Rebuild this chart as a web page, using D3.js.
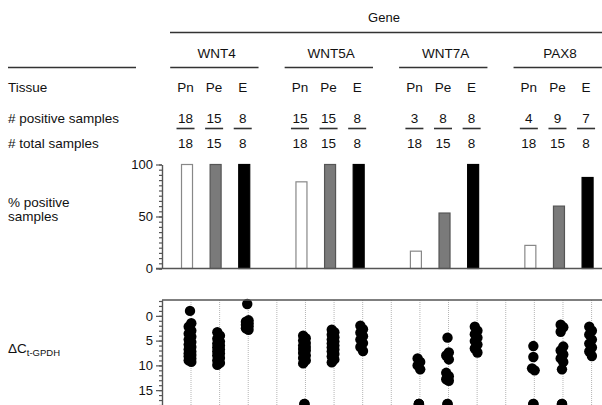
<!DOCTYPE html>
<html>
<head>
<meta charset="utf-8">
<script src="https://cdn.jsdelivr.net/npm/d3@7"></script>
<style>
  body { margin: 0; background: #fff; }
  svg { display: block; font-family: 'Liberation Sans', Arial, sans-serif; }
  .lbl { font-size: 13.5px; fill: #111; }
  .tick text { font-size: 13px; fill: #111; font-family: 'Liberation Sans', Arial, sans-serif; }
  .axis path, .axis line { stroke: #555; stroke-width: 1.2; }
</style>
</head>
<body>
<svg id="chart" width="602" height="405"></svg>
<script>
// ── Data ─────────────────────────────────────────────────────────
const genes     = ['WNT4', 'WNT5A', 'WNT7A', 'PAX8'];
const tissues   = ['Pn', 'Pe', 'E'];
const positives = [[18, 15, 8], [15, 15, 8], [3, 8, 8], [4, 9, 7]];
const totals    = [[18, 15, 8], [18, 15, 8], [18, 15, 8], [18, 15, 8]];

// ΔCt values per tissue (Pn, Pe, E); 17.8 = not detected (off the bottom)
const dctWNT4 = [
  [-1.0, 1.5, 2.2, 3.0, 3.6, 4.2, 4.8, 5.3, 5.8, 6.3, 6.8, 7.2, 7.6, 7.9, 8.2, 8.6, 9.0, 9.3],
  [3.3, 4.0, 4.6, 5.2, 5.6, 6.0, 6.4, 6.8, 7.2, 7.6, 8.0, 8.5, 9.0, 9.5, 9.9],
  [-2.4, 0.9, 1.2, 1.5, 1.8, 2.1, 2.5, 2.8]
];
const dctWNT5A = [
  [4.0, 4.5, 5.0, 5.5, 6.0, 6.3, 6.7, 7.0, 7.5, 8.0, 8.5, 9.0, 9.6, 17.8, 17.8],
  [2.8, 3.3, 3.8, 4.3, 4.8, 5.2, 5.6, 6.0, 6.4, 6.8, 7.2, 7.7, 8.2, 8.8, 9.4],
  [2.0, 2.7, 3.4, 4.1, 4.8, 5.5, 6.3, 7.1]
];
const dctWNT7A = [
  [8.6, 9.3, 10.0, 10.8, 17.8, 17.8, 17.8],
  [4.4, 7.4, 8.0, 8.8, 11.5, 12.2, 12.8, 13.1, 17.8, 17.8],
  [2.2, 3.0, 3.7, 4.4, 5.1, 5.8, 6.6, 7.4]
];
const dctPAX8 = [
  [6.1, 8.3, 10.6, 11.0, 17.8, 17.8],
  [1.8, 2.3, 3.2, 6.2, 7.0, 7.8, 8.6, 9.3, 10.8, 17.8, 17.8],
  [2.2, 3.0, 3.8, 4.8, 5.6, 6.4, 7.2, 8.1]
];
const dctByGene = [dctWNT4, dctWNT5A, dctWNT7A, dctPAX8];

const barTicks = [0, 50, 100];
const dotTicks = [0, 5, 10, 15];

const TISSUE_FILL   = { Pn: '#fff', Pe: '#7a7a7a', E: '#000' };
const TISSUE_STROKE = { Pn: '#888', Pe: '#555', E: '#000' };

// ── Layout ───────────────────────────────────────────────────────
const svg = d3.select('#chart');
const W = 602;
const LEFT_X = 8;
const AXIS_X = 162;
const DOT_SHIFT = 4;

const xGene = d3.scaleBand().domain(genes).range([172.7, 630.5]);
const xTis  = d3.scaleBand().domain([...tissues, 'gap']).range([0, xGene.bandwidth()]);
const cx = (g, t) => xGene(g) + xTis(t) + xTis.bandwidth() / 2;

const yBar = d3.scaleLinear().domain([0, 100]).range([268.5, 164.5]);
const yDot = d3.scaleLinear().domain([-3.2, 18]).range([300, 405]);

const hline = (x1, x2, y, w = 1.3, c = '#333') =>
  svg.append('line').attr('x1', x1).attr('x2', x2).attr('y1', y).attr('y2', y)
    .attr('stroke', c).attr('stroke-width', w);

const text = (x, y, s, anchor = 'start') =>
  svg.append('text').attr('class', 'lbl').attr('x', x).attr('y', y)
    .attr('text-anchor', anchor).text(s);

// ── Header table ─────────────────────────────────────────────────
text(384, 22, 'Gene', 'middle').style('font-size', '13px');
hline(170, W, 32.5);
hline(LEFT_X, 136, 67.5);

text(LEFT_X, 92, 'Tissue');
text(LEFT_X, 123, '# positive samples');
text(LEFT_X, 148, '# total samples');

genes.forEach((g, gi) => {
  const x0 = xGene(g);
  const span = xTis.bandwidth() * 3;
  text(x0 + span / 2 + 1, 58, g, 'middle');
  hline(x0 - 2.5, x0 + span, 67.5);

  tissues.forEach((t, ti) => {
    const c = cx(g, t) - 1.5;
    text(c, 92, t, 'middle');
    text(c, 123, positives[gi][ti], 'middle');
    hline(c - 9, c + 9, 128.5, 1.6);
    text(c, 148, totals[gi][ti], 'middle');
  });
});

// ── % positive bars ──────────────────────────────────────────────
svg.append('text').attr('class', 'lbl').attr('x', LEFT_X).attr('y', 207)
  .call(t => t.append('tspan').attr('x', LEFT_X).text('% positive'))
  .call(t => t.append('tspan').attr('x', LEFT_X).attr('dy', 14).text('samples'));

const barData = genes.flatMap((g, gi) => tissues.map((t, ti) => ({
  g, t, pct: positives[gi][ti] / totals[gi][ti] * 100
})));

const BAR_W = 11;
svg.append('g').selectAll('rect')
  .data(barData)
  .join('rect')
    .attr('x', d => cx(d.g, d.t) - BAR_W / 2)
    .attr('y', d => yBar(d.pct))
    .attr('width', BAR_W)
    .attr('height', d => yBar(0) - yBar(d.pct))
    .attr('fill', d => TISSUE_FILL[d.t])
    .attr('stroke', d => TISSUE_STROKE[d.t])
    .attr('stroke-width', 1.2);

hline(AXIS_X - 6, W, yBar(0), 1.4, '#555');

svg.append('g').attr('class', 'axis').attr('transform', `translate(${AXIS_X},0)`)
  .call(d3.axisLeft(yBar).tickValues(d3.range(0, 101, 5)).tickSize(3).tickSizeOuter(0).tickFormat(''));
svg.append('g').attr('class', 'axis').attr('transform', `translate(${AXIS_X},0)`)
  .call(d3.axisLeft(yBar).tickValues(barTicks).tickSize(6).tickSizeOuter(0).tickPadding(3));

// ── ΔCt dot plot ─────────────────────────────────────────────────
const dl = svg.append('text').attr('class', 'lbl').attr('x', LEFT_X).attr('y', 353);
dl.append('tspan').text('ΔC');
dl.append('tspan').attr('dy', 3).style('font-size', '9.5px').text('t-GPDH');

const slots = genes.flatMap(g => xTis.domain().map(t => ({ g, t })));
svg.append('g').selectAll('line')
  .data(slots)
  .join('line')
    .attr('x1', d => cx(d.g, d.t) + DOT_SHIFT)
    .attr('x2', d => cx(d.g, d.t) + DOT_SHIFT)
    .attr('y1', yDot.range()[0])
    .attr('y2', yDot.range()[1])
    .attr('stroke', '#b5b5b5')
    .attr('stroke-width', 1)
    .attr('stroke-dasharray', '1 1');

// small alternating nudge for dots that crowd their neighbour
const dotData = genes.flatMap((g, gi) => tissues.flatMap((t, ti) => {
  const vals = dctByGene[gi][ti].slice().sort(d3.ascending);
  return vals.map((v, i) => {
    const crowded = (i > 0 && v - vals[i - 1] < 1.2) || (i < vals.length - 1 && vals[i + 1] - v < 1.2);
    return { g, t, v, dx: crowded && v < 17 ? (i % 2 ? 1.3 : -1.3) : 0 };
  });
}));

svg.append('g').selectAll('circle')
  .data(dotData)
  .join('circle')
    .attr('cx', d => cx(d.g, d.t) + DOT_SHIFT - 1 + d.dx)
    .attr('cy', d => yDot(d.v))
    .attr('r', 5.2)
    .attr('fill', '#000');

hline(AXIS_X, W, yDot.range()[0], 1.4, '#555');

svg.append('g').attr('class', 'axis').attr('transform', `translate(${AXIS_X},0)`)
  .call(d3.axisLeft(yDot).tickValues(d3.range(-3, 19, 1)).tickSize(3).tickSizeOuter(0).tickFormat(''));
svg.append('g').attr('class', 'axis').attr('transform', `translate(${AXIS_X},0)`)
  .call(d3.axisLeft(yDot).tickValues(dotTicks).tickSize(6).tickSizeOuter(0).tickPadding(3));
</script>
</body>
</html>
